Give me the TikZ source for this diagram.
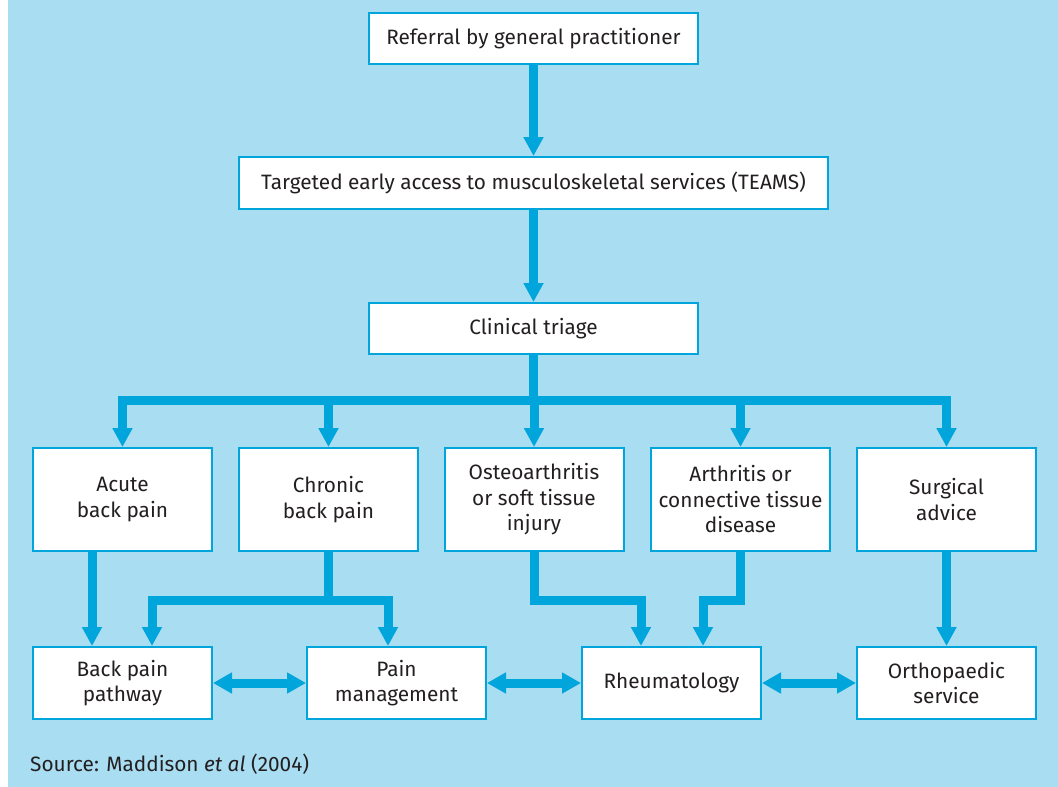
\documentclass[tikz,border=0pt]{standalone}
\usepackage{fontspec}
\setmainfont{Fira Sans}
\usetikzlibrary{arrows.meta,calc}
\definecolor{bgblue}{HTML}{A9DDF1}
\definecolor{lineblue}{HTML}{00A6DB}
\definecolor{txt}{HTML}{231F20}
\begin{document}
\begin{tikzpicture}[x=1pt,y=-1pt,
  box/.style={draw=lineblue,line width=2pt,fill=white,text=txt,align=center,
    inner sep=0pt,font=\fontsize{20.8}{25.5}\selectfont},
  wbox/.style={box,minimum width=329pt,minimum height=51pt},
  rbox/.style={box,minimum width=179pt,minimum height=103pt},
  lbox/.style={box,minimum width=179pt,minimum height=72pt},
  arr/.style={draw=lineblue,line width=9pt,-{Triangle[length=19pt,width=19pt]}},
  link/.style={draw=lineblue,line width=9pt},
  darr/.style={draw=lineblue,line width=9pt,{Triangle[length=19pt,width=20pt]}-{Triangle[length=19pt,width=20pt]}}]
\useasboundingbox (0,0) rectangle (1058,787);
\fill[white] (0,0) rectangle (1058,787);
\fill[bgblue] (8,0) rectangle (1058,787);
% top chain
\node[wbox] (ref) at (533.5,38.5) {Referral by general practitioner};
\node[box,minimum width=589pt,minimum height=52pt] (teams) at (533.5,183) {Targeted early access to musculoskeletal services (TEAMS)};
\node[wbox] (triage) at (533.5,328.5) {Clinical triage};
% row 1
\node[rbox] (acute) at (122.5,499.5) {Acute\\back pain};
\node[rbox] (chronic) at (328.5,499.5) {Chronic\\back pain};
\node[rbox] (osteo) at (534,499.5) {Osteoarthritis\\or soft tissue\\injury};
\node[rbox] (arth) at (740.5,499.5) {Arthritis or\\connective tissue\\disease};
\node[rbox] (surg) at (946.5,499.5) {Surgical\\advice};
% row 2
\node[lbox] (back) at (122.5,683) {Back pain\\pathway};
\node[lbox] (pain) at (396.5,683) {Pain\\management};
\node[lbox] (rheum) at (671.5,683) {Rheumatology};
\node[lbox] (ortho) at (946.5,683) {Orthopaedic\\service};
% source
\node[anchor=base west,inner sep=0pt,text=txt,font=\fontsize{20.8}{25}\selectfont] (src) at (30,771) {Source: Maddison \textit{et al} (2004)};
% connectors top
\draw[arr] (ref.south) -- (teams.north);
\draw[arr] (teams.south) -- (triage.north);
\coordinate (bar) at (533.5,400);
\draw[link] (triage.south) -- ([yshift=4.5pt]bar);
\draw[link] ($(acute.north |- bar)+(-4.5,0)$) -- ($(surg.north |- bar)+(4.5,0)$);
\foreach \n in {acute,chronic,osteo,arth,surg}
  \draw[arr] ([yshift=-4.5pt]\n.north |- bar) -- (\n.north);
% row1 -> row2
\draw[arr] ([xshift=-30.5pt]acute.south) -- ([xshift=-30.5pt]back.north);
\coordinate (cj) at (328.5,600);
\draw[link] (chronic.south) -- (cj);
\draw[arr,line join=miter] (cj) -| ([xshift=29.5pt]back.north);
\draw[arr,line join=miter] (cj) -| ([xshift=-8.5pt]pain.north);
\coordinate (oj) at (534,600);
\draw[arr,line join=miter] (osteo.south) -- (oj) -| ([xshift=-30.5pt]rheum.north);
\coordinate (aj) at (740.5,600);
\draw[arr,line join=miter] (arth.south) -- (aj) -| ([xshift=31.5pt]rheum.north);
\draw[arr] (surg.south) -- (ortho.north);
% double arrows
\draw[darr] (back.east) -- (pain.west);
\draw[darr] (pain.east) -- (rheum.west);
\draw[darr] (rheum.east) -- (ortho.west);
\end{tikzpicture}
\end{document}
